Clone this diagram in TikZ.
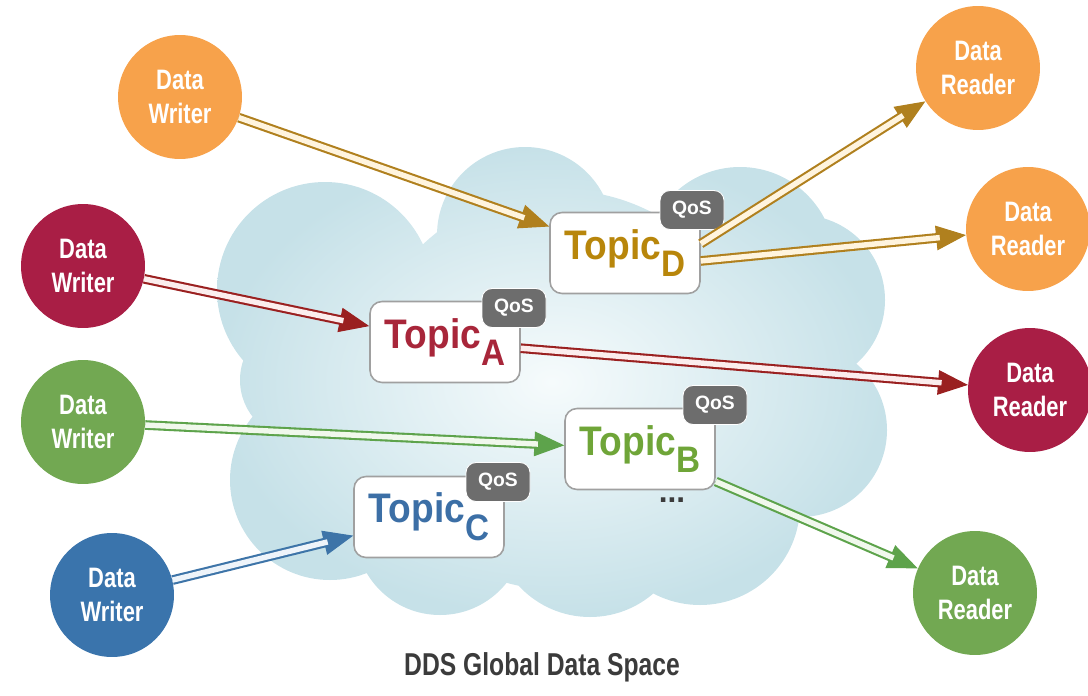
\documentclass[tikz,border=0pt]{standalone}
\usepackage{fontspec}
\setmainfont{Liberation Sans}
\newfontfamily\condfont[FakeStretch=0.78]{Liberation Sans}
\newfontfamily\topicfont[FakeStretch=0.9]{Liberation Sans}
\usetikzlibrary{arrows.meta,calc}
\definecolor{cOr}{HTML}{F7A24B}
\definecolor{cRe}{HTML}{A91E45}
\definecolor{cGr}{HTML}{72A852}
\definecolor{cBl}{HTML}{3A74AC}
\definecolor{aOr}{HTML}{B0801E}
\definecolor{aRe}{HTML}{9A2020}
\definecolor{aGr}{HTML}{5DA34B}
\definecolor{aBl}{HTML}{3D74A8}
\definecolor{tOr}{HTML}{B8860B}
\definecolor{tRe}{HTML}{A8263A}
\definecolor{tGr}{HTML}{6FA538}
\definecolor{tBl}{HTML}{3C6FA6}
\definecolor{iOr}{HTML}{FFF4DE}
\definecolor{iRe}{HTML}{FBEDED}
\definecolor{iGr}{HTML}{F0F8EC}
\definecolor{iBl}{HTML}{EEF4FA}
\definecolor{cloudout}{HTML}{C6E1E8}
\definecolor{cloudin}{HTML}{F6FBFC}
\definecolor{boxline}{HTML}{A0A0A0}
\definecolor{qosfill}{HTML}{6D6D6D}
\definecolor{captcol}{HTML}{3B3B3B}
\begin{document}
\begin{tikzpicture}[x=0.02cm,y=-0.02cm,
  actor/.style={circle, fill=#1, draw=none, minimum size=2.48cm, inner sep=0pt,
    text=white, align=center, font=\condfont\bfseries\fontsize{16}{19}\selectfont},
  topicbox/.style={rectangle, rounded corners=0.24cm, draw=boxline, line width=0.9pt,
    fill=white, minimum width=3cm, minimum height=1.62cm, inner sep=0pt,
    text=#1, font=\topicfont\bfseries\fontsize{23.5}{23.5}\selectfont},
  qos/.style={rectangle, rounded corners=0.2cm, fill=qosfill, draw=white, line width=0.5pt,
    minimum width=1.28cm, minimum height=0.78cm, inner sep=0pt, text=white,
    font=\bfseries\fontsize{11}{11}\selectfont},
  tipline/.style={draw=#1, fill=#1, line width=0.6pt, -{Triangle[length=17pt,width=14pt]}},
  shaft/.style n args={2}{draw=#1, line width=1.2pt, double=#2, double distance=3.1pt,
    shorten >=15pt},
]
\useasboundingbox (0,0) rectangle (1088,696);
% cloud
\shade[inner color=cloudin, outer color=cloudout]
  (325,290) circle (108)
  (525,235) circle (88)
  (740,262) circle (95)
  (800,300) circle (85)
  (800,430) circle (87)
  (700,505) circle (100)
  (590,520) circle (97)
  (330,480) circle (100)
  (440,530) circle (85)
  (560,390) circle (200)
  (300,380) circle (60);
% actors
\node[actor=cOr] (w1) at (180,97) {Data\\Writer};
\node[actor=cRe] (w2) at (83,266) {Data\\Writer};
\node[actor=cGr] (w3) at (83,422) {Data\\Writer};
\node[actor=cBl] (w4) at (112,595) {Data\\Writer};
\node[actor=cOr] (r1) at (978,68) {Data\\Reader};
\node[actor=cOr] (r2) at (1028,229) {Data\\Reader};
\node[actor=cRe] (r3) at (1030,390) {Data\\Reader};
\node[actor=cGr] (r4) at (975,593) {Data\\Reader};
% topics
\node[topicbox=tOr] (tD) at (625,253) {Topic\raisebox{-10pt}{\fontsize{21}{21}\selectfont D}};
\node[topicbox=tRe] (tA) at (445,342) {Topic\raisebox{-10pt}{\fontsize{21}{21}\selectfont A}};
\node[topicbox=tGr] (tB) at (640,449) {Topic\raisebox{-10pt}{\fontsize{21}{21}\selectfont B}};
\node[topicbox=tBl] (tC) at (429,517) {Topic\raisebox{-10pt}{\fontsize{21}{21}\selectfont C}};
\node[qos] (qD) at (692,210) {QoS};
\node[qos] (qA) at (514,308) {QoS};
\node[qos] (qB) at (715,405) {QoS};
\node[qos] (qC) at (498,482) {QoS};
\node[text=captcol, inner sep=0pt, anchor=base, font=\bfseries\fontsize{18}{18}\selectfont] (dots) at (672,502) {...};
% arrows: writers to topics
\draw[tipline=aOr] (w1) -- (tD);
\draw[shaft={aOr}{iOr}] (w1) -- (tD);
\draw[tipline=aRe] (w2) -- (tA);
\draw[shaft={aRe}{iRe}] (w2) -- (tA);
\draw[tipline=aGr] (w3) -- (tB);
\draw[shaft={aGr}{iGr}] (w3) -- (tB);
\draw[tipline=aBl] (w4) -- (tC);
\draw[shaft={aBl}{iBl}] (w4) -- (tC);
% arrows: topics to readers
\draw[tipline=aOr] (tD.7) -- (r1);
\draw[shaft={aOr}{iOr}] (tD.7) -- (r1);
\draw[tipline=aOr] (tD.-6) -- (r2);
\draw[shaft={aOr}{iOr}] (tD.-6) -- (r2);
\draw[tipline=aRe] (tA) -- (r3);
\draw[shaft={aRe}{iRe}] (tA) -- (r3);
\draw[tipline=aGr] (tB) -- (r4);
\draw[shaft={aGr}{iGr}] (tB) -- (r4);
% caption
\node[text=captcol, font=\condfont\bfseries\fontsize{18}{18}\selectfont] (cap) at (542,667) {DDS Global Data Space};
\end{tikzpicture}
\end{document}
